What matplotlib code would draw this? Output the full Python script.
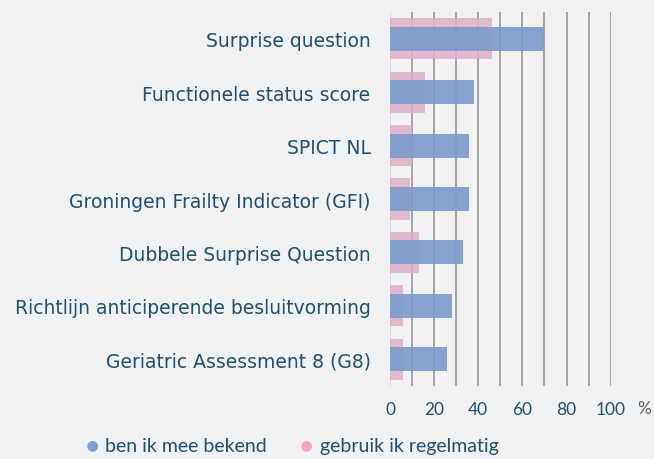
import numpy as np
import matplotlib
matplotlib.use("Agg")
import matplotlib.pyplot as plt

# ---- data --------------------------------------------------------------- #
categories = ['Surprise question', 'Functionele status score', 'SPICT NL',
              'Groningen Frailty Indicator (GFI)', 'Dubbele Surprise Question',
              'Richtlijn anticiperende besluitvorming', 'Geriatric Assessment 8 (G8)']
bekend     = [70, 38, 36, 36, 33, 28, 26]   # ben ik mee bekend
regelmatig = [46, 16, 10, 9, 13, 6, 6]      # gebruik ik regelmatig
xticks     = [0, 20, 40, 60, 80, 100]

BG    = '#f1f2f4'
TXT   = '#1f5070'
BLUE  = '#7b9bcc'
PINK  = '#dfafc8'

plt.rcParams['font.family'] = ['Lato', 'DejaVu Sans']

fig = plt.figure(figsize=(6.54, 4.60), dpi=100, facecolor=BG)
ax = fig.add_axes([390 / 654, 1 - 387 / 460, (610.7 - 390) / 654, (387 - 13) / 460])
ax.set_facecolor(BG)

y = np.arange(len(categories))
ax.barh(y, regelmatig, height=0.77, color=PINK, alpha=0.85, zorder=2)
ax.barh(y, bekend, height=0.45, color=BLUE, alpha=0.9, zorder=3)

for gx in range(10, 101, 10):
    ax.axvline(gx, color='#a3a3a3', lw=1.4, zorder=1)
ax.axvline(0, color='#d9d9d9', lw=1.4, zorder=1)

ax.set_xlim(0, 100)
ax.set_ylim(len(categories) - 0.5, -0.5)
ax.set_yticks(y)
ax.set_yticklabels(categories, fontsize=13.5, color=TXT, family='DejaVu Sans')
ax.tick_params(axis='y', length=0, pad=14)
ax.set_xticks(xticks)
ax.set_xticklabels([str(v) for v in xticks], fontsize=12.5, color=TXT)
ax.tick_params(axis='x', length=0, pad=11)
for s in ax.spines.values():
    s.set_visible(False)

fig.text(644 / 654, 1 - 409 / 460, '%', fontsize=12.5, color='#606060',
         ha='center', va='center')

# legend drawn as marker + text
fig.text(92 / 654, 1 - 446 / 460, '\u25cf', fontsize=16, color='#7f9fd4',
         ha='center', va='center')
fig.text(105 / 654, 1 - 447 / 460, 'ben ik mee bekend', fontsize=14, color=TXT,
         ha='left', va='center')
fig.text(306 / 654, 1 - 446 / 460, '\u25cf', fontsize=16, color='#f2a5c5',
         ha='center', va='center')
fig.text(320 / 654, 1 - 447 / 460, 'gebruik ik regelmatig', fontsize=14, color=TXT,
         ha='left', va='center')

fig.savefig('out.png', dpi=100, facecolor=BG)
